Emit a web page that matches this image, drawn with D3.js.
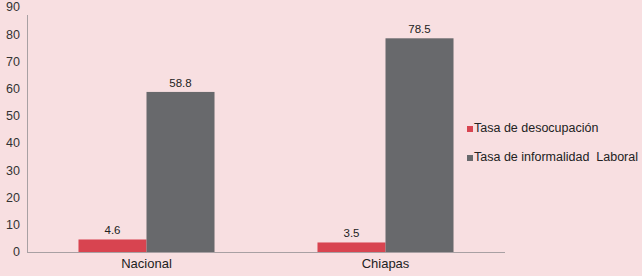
<!DOCTYPE html>
<html><head><meta charset="utf-8">
<script src="https://cdn.jsdelivr.net/npm/d3@7"></script>
<style>
html,body{margin:0;padding:0;background:#f8dfe1;}
svg{display:block;font-family:"Liberation Sans",Arial,sans-serif;}
</style></head><body>
<svg id="c" width="642" height="276"></svg>
<script>
const categories = ["Nacional", "Chiapas"];
const seriesNames = ["Tasa de desocupación", "Tasa de informalidad  Laboral"];
const desocupacion = [4.6, 3.5];
const informalidad = [58.8, 78.5];
const yTicks = [0, 10, 20, 30, 40, 50, 60, 70, 80, 90];
const colors = ["#d84450", "#68696c"];

const svg = d3.select("#c");
const m = {left: 27, right: 137, top: 7, bottom: 24};
const W = 642, H = 276;
const x0 = d3.scaleBand().domain(categories).range([m.left, W - m.right]).paddingInner(0).paddingOuter(0);
const x1 = d3.scaleBand().domain([0, 1]).range([0, x0.bandwidth()]).paddingInner(0).paddingOuter(0.757);
const y = d3.scaleLinear().domain([0, 90]).range([H - m.bottom, m.top]);

// y axis line
svg.append("line").attr("x1", m.left + 0.5).attr("x2", m.left + 0.5)
  .attr("y1", y(90) + 8).attr("y2", y(0)).attr("stroke", "#a8a0a3").attr("stroke-width", 1);
// y tick labels
svg.selectAll(".yt").data(yTicks).join("text")
  .attr("x", 20).attr("y", d => y(d)).attr("dy", "0.35em")
  .attr("text-anchor", "end").attr("font-size", 12.5).attr("fill", "#333")
  .text(d => d);

const series = [desocupacion, informalidad];
series.forEach((vals, si) => {
  svg.selectAll(".b" + si).data(categories).join("rect")
    .attr("x", d => x0(d) + x1(si))
    .attr("width", x1.bandwidth())
    .attr("y", (d, i) => y(vals[i]))
    .attr("height", (d, i) => y(0) - y(vals[i]))
    .attr("fill", colors[si]);
  svg.selectAll(".l" + si).data(categories).join("text")
    .attr("x", d => x0(d) + x1(si) + x1.bandwidth() / 2)
    .attr("y", (d, i) => y(vals[i]) - 5)
    .attr("text-anchor", "middle").attr("font-size", 11.5).attr("fill", "#222")
    .text((d, i) => vals[i].toFixed(1));
});

// x axis line
svg.append("line").attr("x1", m.left).attr("x2", W - m.right)
  .attr("y1", y(0) + 0.5).attr("y2", y(0) + 0.5).attr("stroke", "#a8a0a3").attr("stroke-width", 1.2);
// category labels
svg.selectAll(".xc").data(categories).join("text")
  .attr("x", d => x0(d) + x0.bandwidth() / 2).attr("y", 268)
  .attr("text-anchor", "middle").attr("font-size", 13).attr("fill", "#222")
  .text(d => d);

// legend
seriesNames.forEach((name, i) => {
  const g = svg.append("g").attr("transform", `translate(467,${128 + i * 29})`);
  g.append("rect").attr("x", 0).attr("y", -2).attr("width", 6).attr("height", 6)
    .attr("fill", colors[i]);
  g.append("text").attr("x", 7).attr("y", 0).attr("dy", "0.35em")
    .attr("font-size", 12.5).attr("fill", "#222")
    .style("white-space", "pre")
    .text(name);
});
</script>
</body></html>
